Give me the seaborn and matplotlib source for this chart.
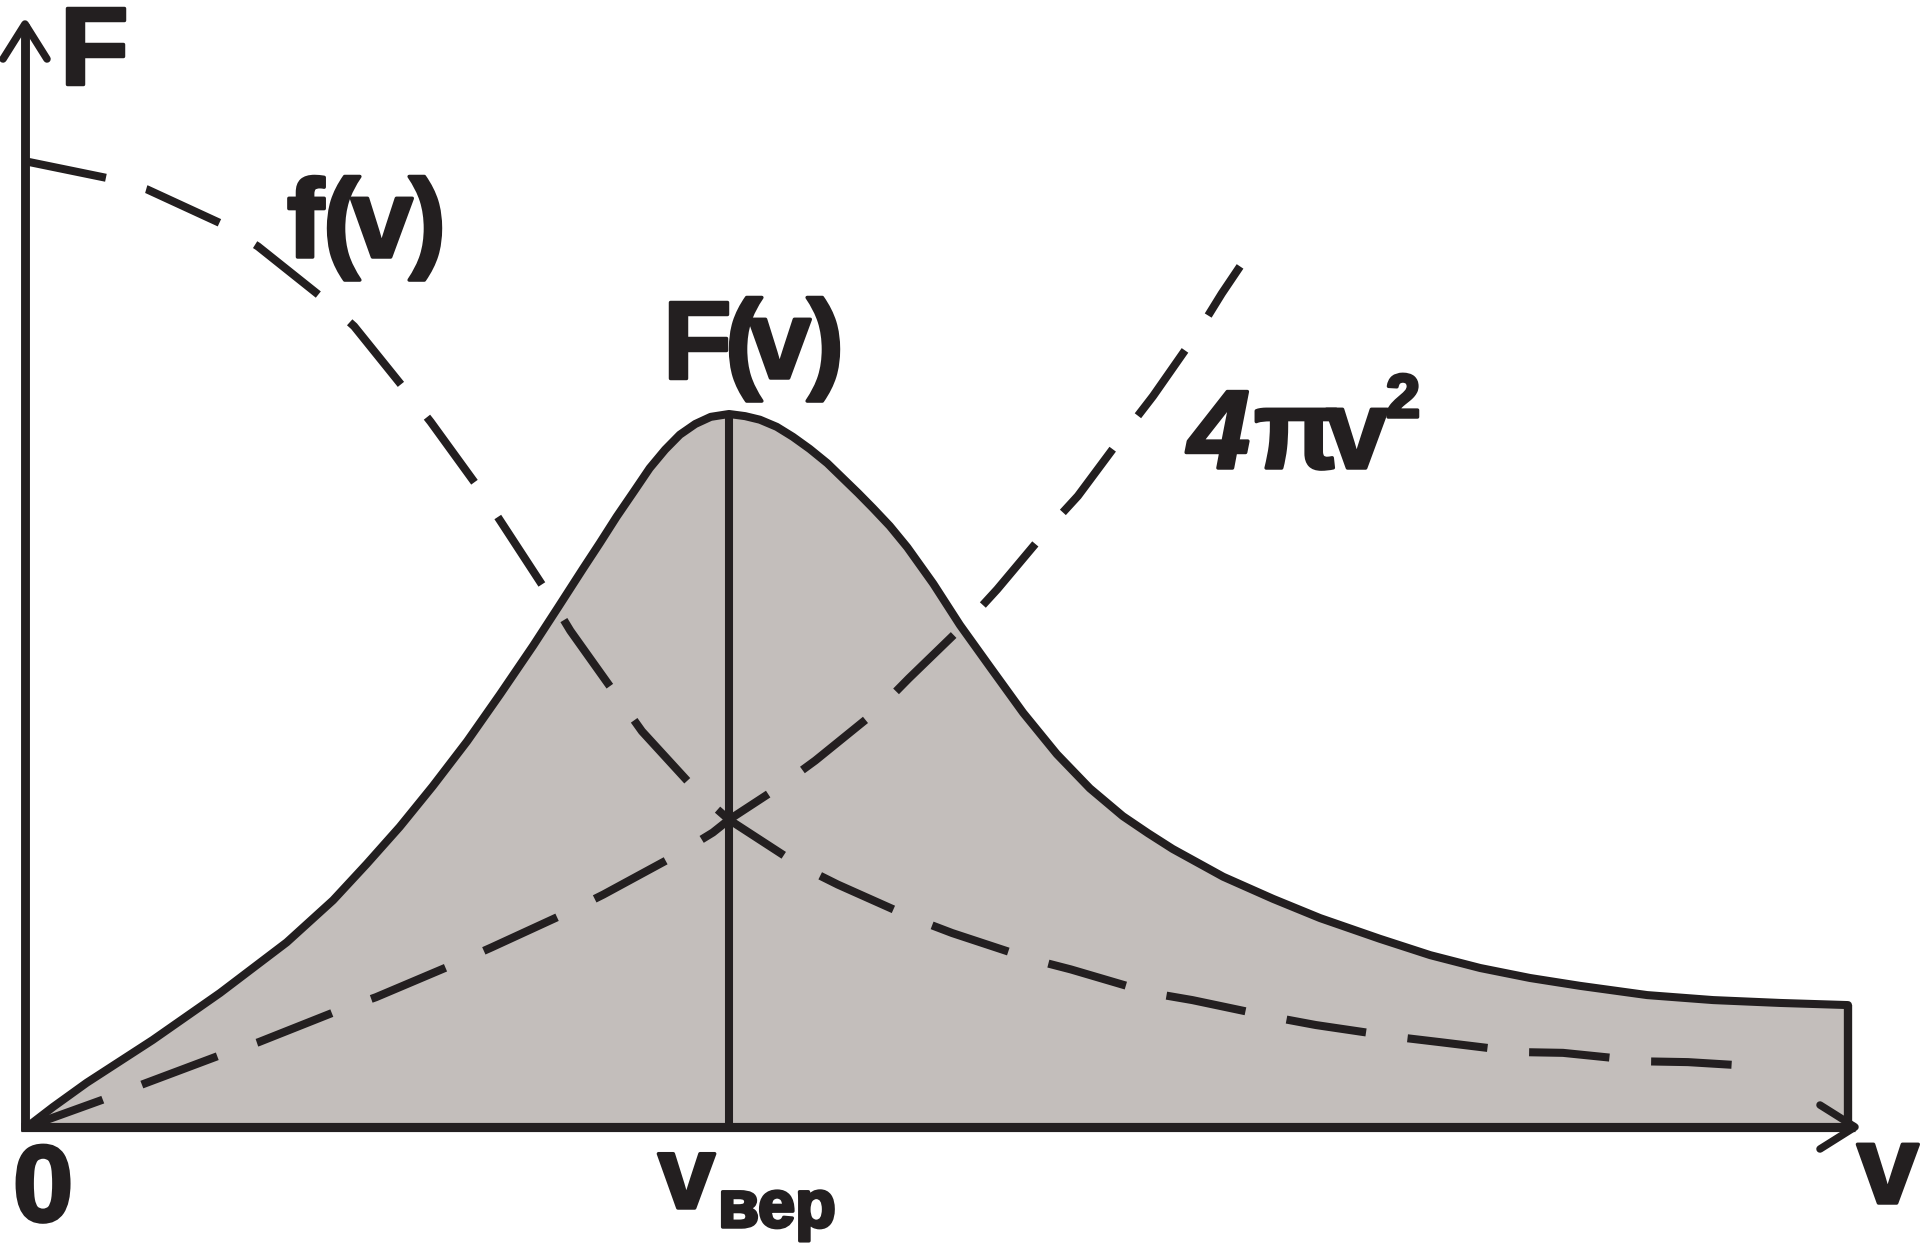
import matplotlib
matplotlib.use('Agg')
import matplotlib.pyplot as plt
import matplotlib.patheffects as pe
import seaborn as sns

# speeds in units of v_вер, heights in units of the F(v) peak
F_V = [0, 0.037, 0.085, 0.179, 0.275, 0.370, 0.436, 0.484, 0.531, 0.578,
       0.627, 0.674, 0.721, 0.756, 0.792, 0.816, 0.840, 0.865, 0.887, 0.909,
       0.930, 0.952, 0.974, 1.0, 1.023, 1.044, 1.068, 1.091, 1.115, 1.140,
       1.162, 1.184, 1.205, 1.229, 1.254, 1.291, 1.329, 1.372, 1.419, 1.467,
       1.514, 1.561, 1.597, 1.632, 1.704, 1.775, 1.842, 1.927, 1.999, 2.070,
       2.141, 2.212, 2.308, 2.402, 2.497, 2.594]
F_VAL = [0, 0.028, 0.062, 0.122, 0.188, 0.259, 0.318, 0.369, 0.421, 0.478,
         0.541, 0.607, 0.675, 0.728, 0.783, 0.819, 0.856, 0.892, 0.924, 0.950,
         0.971, 0.986, 0.996, 1.0, 0.997, 0.992, 0.982, 0.968, 0.951, 0.931,
         0.910, 0.889, 0.868, 0.843, 0.813, 0.762, 0.704, 0.645, 0.581, 0.523,
         0.475, 0.436, 0.412, 0.390, 0.351, 0.320, 0.293, 0.264, 0.241, 0.223,
         0.209, 0.198, 0.185, 0.178, 0.174, 0.171]

EXP_V = [0, 0.114, 0.171, 0.279, 0.329, 0.422, 0.466, 0.538, 0.575, 0.645,
         0.679, 0.742, 0.774, 0.842, 0.876, 0.956, 1.0, 1.100, 1.155, 1.262,
         1.318, 1.432, 1.487, 1.601, 1.660, 1.776, 1.836, 1.953, 2.013, 2.130,
         2.188, 2.308, 2.366, 2.483]
EXP_VAL = [1.354, 1.331, 1.315, 1.266, 1.235, 1.162, 1.123, 1.035, 0.989, 0.894,
           0.843, 0.748, 0.696, 0.602, 0.555, 0.469, 0.431, 0.367, 0.340, 0.293,
           0.272, 0.235, 0.221, 0.188, 0.178, 0.154, 0.143, 0.126, 0.119, 0.105,
           0.104, 0.092, 0.091, 0.084]

SQ_V = [0, 0.107, 0.165, 0.276, 0.330, 0.440, 0.497, 0.605, 0.662, 0.768,
        0.821, 0.924, 0.977, 1.0, 1.073, 1.123, 1.212, 1.256, 1.342, 1.382,
        1.457, 1.497, 1.568, 1.604, 1.670, 1.702, 1.728]
SQ_VAL = [0, 0.038, 0.060, 0.101, 0.119, 0.162, 0.182, 0.227, 0.252, 0.300,
          0.326, 0.381, 0.413, 0.431, 0.478, 0.514, 0.585, 0.629, 0.711, 0.754,
          0.842, 0.885, 0.979, 1.025, 1.118, 1.169, 1.207]

V_PEAK = 1.0

INK = '#231f20'
FILL = '#c3bebb'
W, H = 1925, 1244
X0, Y0, SX, SY = 27, 1127, 702, 713


def px(x, y):
    """pixel position in the picture -> data coordinates"""
    return (x - X0) / SX, (Y0 - y) / SY


sns.set_theme(style='white')
plt.rcParams['font.family'] = ['Liberation Sans', 'DejaVu Sans']

fig = plt.figure(figsize=(W / 100, H / 100), dpi=100)
ax = fig.add_axes([0, 0, 1, 1])
ax.set_xlim(px(0, 0)[0], px(W, 0)[0])
ax.set_ylim(px(0, H)[1], px(0, 0)[1])
ax.axis('off')

# shaded F(v)
ax.fill_between(F_V, F_VAL, 0, color=FILL, lw=0, zorder=1)
sns.lineplot(x=F_V, y=F_VAL, ax=ax, color=INK, linewidth=5.8, sort=False,
             estimator=None, solid_joinstyle='round', zorder=4)
ax.vlines(F_V[-1], 0, F_VAL[-1], color=INK, lw=6.0, zorder=4)
ax.vlines(V_PEAK, 0, max(F_VAL), color=INK, lw=5.8, zorder=4)

dash = (0, (10.0, 5.2))
for xs, ys in [(EXP_V, EXP_VAL), (SQ_V, SQ_VAL)]:
    sns.lineplot(x=xs, y=ys, ax=ax, color=INK, linewidth=5.8, linestyle=dash,
                 sort=False, estimator=None, dash_capstyle='butt', zorder=3)

# axes with open arrow heads
ax.plot(*zip(px(25, 1131), px(25, 24)), color=INK, lw=6.4,
        solid_capstyle='butt', zorder=5)
ax.plot(*zip(px(3, 59), px(25, 24), px(47, 59)), color=INK, lw=5.4, zorder=5)
ax.plot(*zip(px(21, 1127), px(1855, 1127)), color=INK, lw=6.6,
        solid_capstyle='butt', zorder=5)
ax.plot(*zip(px(1820, 1105), px(1855, 1127), px(1820, 1149)), color=INK,
        lw=5.4, zorder=5)

heavy = [pe.withStroke(linewidth=2.5, foreground=INK)]


def glyphs(parts, size, **kw):
    for ch, x, y in parts:
        ax.text(*px(x, y), ch, fontsize=size, fontweight='bold', color=INK,
                ha='left', va='baseline', path_effects=heavy, zorder=6, **kw)


glyphs([('F', 60, 84)], 80)
glyphs([('f', 287, 257), ('(', 323, 257), ('v', 351, 257), (')', 409, 257)], 80)
glyphs([('F', 663, 378), ('(', 725, 378), ('v', 749, 378), (')', 807, 378)], 80)
glyphs([('4', 1188, 468)], 80, style='italic')
glyphs([('π', 1254, 468), ('v', 1326, 468)], 80)
glyphs([('2', 1386, 417)], 44)
glyphs([('0', 13, 1221)], 78)
glyphs([('v', 1857, 1203)], 80)
glyphs([('v', 658, 1208)], 74)
glyphs([('вер', 718, 1227)], 48)

fig.savefig('out.png', dpi=100)
